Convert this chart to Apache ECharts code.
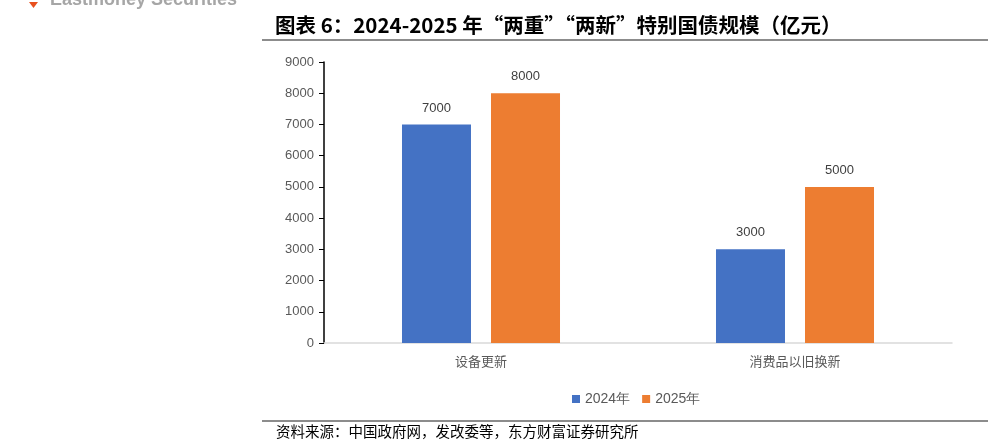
<!DOCTYPE html>
<html><head><meta charset="utf-8">
<script src="https://cdn.jsdelivr.net/npm/echarts@6/dist/echarts.min.js"></script>
<style>html,body{margin:0;padding:0;background:#fff}#c{width:993px;height:445px}</style>
</head><body><div id="c"></div>
<script>
const categories = ['设备更新', '消费品以旧换新'];
const seriesNames = ['2024年', '2025年'];
const values2024 = [7000, 3000];
const values2025 = [8000, 5000];
const yTicks = [0, 1000, 2000, 3000, 4000, 5000, 6000, 7000, 8000, 9000];

const chart = echarts.init(document.getElementById('c'));
const cjk = '"Noto Sans CJK SC", sans-serif';
const num = 'Arial, "Liberation Sans", sans-serif';
chart.setOption({
  animation: false,
  grid: { left: 324, right: 41, top: 62, bottom: 102 },
  legend: {
    data: seriesNames, left: 567, top: 387, itemWidth: 8, itemHeight: 8, itemGap: 12,
    icon: 'rect', textStyle: { color: '#595959', fontSize: 14, fontFamily: num }
  },
  xAxis: {
    type: 'category', data: categories,
    axisLine: { lineStyle: { color: '#D9D9D9', width: 1.5 } },
    axisTick: { show: false },
    axisLabel: { color: '#595959', fontSize: 13, fontFamily: cjk, margin: 12 }
  },
  yAxis: {
    type: 'value', min: yTicks[0], max: yTicks[yTicks.length - 1], interval: 1000,
    axisLine: { show: true, lineStyle: { color: '#000', width: 1.5 } },
    axisTick: { show: true, inside: false, length: 5, lineStyle: { color: '#000' } },
    splitLine: { show: false },
    axisLabel: { color: '#595959', fontSize: 13, fontFamily: num, margin: 10, formatter: v => String(v) }
  },
  series: [
    { name: seriesNames[0], type: 'bar', data: values2024, barWidth: 69, barGap: '29%',
      itemStyle: { color: '#4472C4' },
      label: { show: true, position: 'top', distance: 10, color: '#404040', fontSize: 13, fontFamily: num } },
    { name: seriesNames[1], type: 'bar', data: values2025, barWidth: 69, barGap: '29%',
      itemStyle: { color: '#ED7D31' },
      label: { show: true, position: 'top', distance: 10, color: '#404040', fontSize: 13, fontFamily: num } }
  ],
  graphic: [
    { type: 'text', left: 50, top: -9, style: { text: 'Eastmoney Securities', fill: '#A6A6A6', font: 'bold 18px Arial, "Liberation Sans", sans-serif' } },
    { type: 'polygon', shape: { points: [[29, 2], [38, 2], [33.5, 8]] }, style: { fill: '#E8501E' } },
    { type: 'text', left: 275, top: 15, style: { text: '图表 6：2024-2025 年“两重”“两新”特别国债规模（亿元）', fill: '#000', font: 'bold 20.5px "Liberation Sans Narrow", "Noto Sans CJK SC", sans-serif' } },
    { type: 'rect', shape: { x: 262, y: 39, width: 726, height: 2 }, style: { fill: '#8C8C8C' } },
    { type: 'rect', shape: { x: 262, y: 420, width: 726, height: 2 }, style: { fill: '#8C8C8C' } },
    { type: 'text', left: 276, top: 424, style: { text: '资料来源：中国政府网，发改委等，东方财富证券研究所', fill: '#000', font: '14.5px "Noto Sans CJK SC", sans-serif' } }
  ]
});
</script></body></html>
